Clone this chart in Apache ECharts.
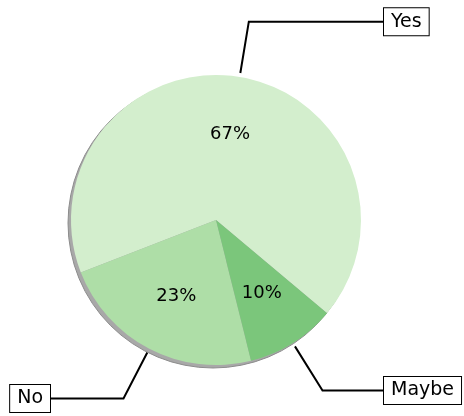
<!DOCTYPE html>
<html>
<head>
<meta charset="utf-8">
<script src="https://cdn.jsdelivr.net/npm/echarts@6/dist/echarts.min.js"></script>
<style>
  html, body { margin: 0; padding: 0; background: #fff; }
  #chart { width: 464px; height: 416px; }
</style>
</head>
<body>
<div id="chart"></div>
<script>
// Survey answers and their shares (percent)
const categories = ['Yes', 'No', 'Maybe'];
const shares = [67, 23, 10];
const sliceColors = ['#d3eecd', '#aedea7', '#7bc67b'];

// Geometry of the pie and its callout boxes
const CENTER = [216, 220];
const RADIUS = 145;
const SHADOW_SHIFT = [-3, 3];
const RIGHT_BOX_X = 384;
const LEFT_BOX_X = 50;
const FONT = 'DejaVu Sans';

const pieData = categories.map((name, i) => ({
  name: name,
  value: shares[i],
  itemStyle: { color: sliceColors[i] }
}));

const chart = echarts.init(document.getElementById('chart'), null, { renderer: 'canvas' });

chart.setOption({
  animation: false,
  series: [
    {
      // soft drop shadow under the pie
      type: 'pie',
      silent: true,
      center: [CENTER[0] + SHADOW_SHIFT[0], CENTER[1] + SHADOW_SHIFT[1]],
      radius: RADIUS,
      label: { show: false },
      labelLine: { show: false },
      itemStyle: { color: '#a8a8a8', borderColor: '#8c8c8c', borderWidth: 1 },
      data: [{ value: 1, name: 'shadow' }]
    },
    {
      // slices with boxed callouts
      type: 'pie',
      center: CENTER,
      radius: RADIUS,
      startAngle: -40,
      clockwise: false,
      avoidLabelOverlap: false,
      itemStyle: { borderWidth: 0 },
      label: {
        show: true,
        position: 'outside',
        formatter: '{b}',
        fontFamily: FONT,
        fontSize: 19,
        color: '#000',
        backgroundColor: '#fff',
        borderColor: '#000',
        borderWidth: 1,
        padding: [4, 7, 4, 7]
      },
      labelLine: {
        show: true,
        length: 56,
        length2: 20,
        smooth: false,
        lineStyle: { color: '#000', width: 2 }
      },
      labelLayout: function (p) {
        const pts = p.labelLinePoints;
        if (!pts) return {};
        const isLeft = pts[1][0] < CENTER[0];
        const x = isLeft ? LEFT_BOX_X : RIGHT_BOX_X;
        const dx = pts[1][0] - pts[0][0];
        const dy = pts[1][1] - pts[0][1];
        const len = Math.hypot(dx, dy) || 1;
        const start = [pts[0][0] + dx / len * 4, pts[0][1] + dy / len * 4];
        const elbow = [pts[1][0], pts[1][1]];
        return {
          x: x,
          y: elbow[1],
          align: isLeft ? 'right' : 'left',
          verticalAlign: 'middle',
          labelLinePoints: [start, elbow, [x, elbow[1]]]
        };
      },
      emphasis: { disabled: true },
      data: pieData
    },
    {
      // percentage labels inside the slices
      type: 'pie',
      silent: true,
      center: CENTER,
      radius: [RADIUS * 0.15, RADIUS],
      startAngle: -40,
      clockwise: false,
      itemStyle: { color: 'rgba(0,0,0,0)' },
      label: {
        show: true,
        position: 'inside',
        formatter: p => p.value + '%',
        fontFamily: FONT,
        fontSize: 18,
        color: '#000'
      },
      labelLine: { show: false },
      data: categories.map((name, i) => ({ name: name, value: shares[i] }))
    }
  ]
});
</script>
</body>
</html>
